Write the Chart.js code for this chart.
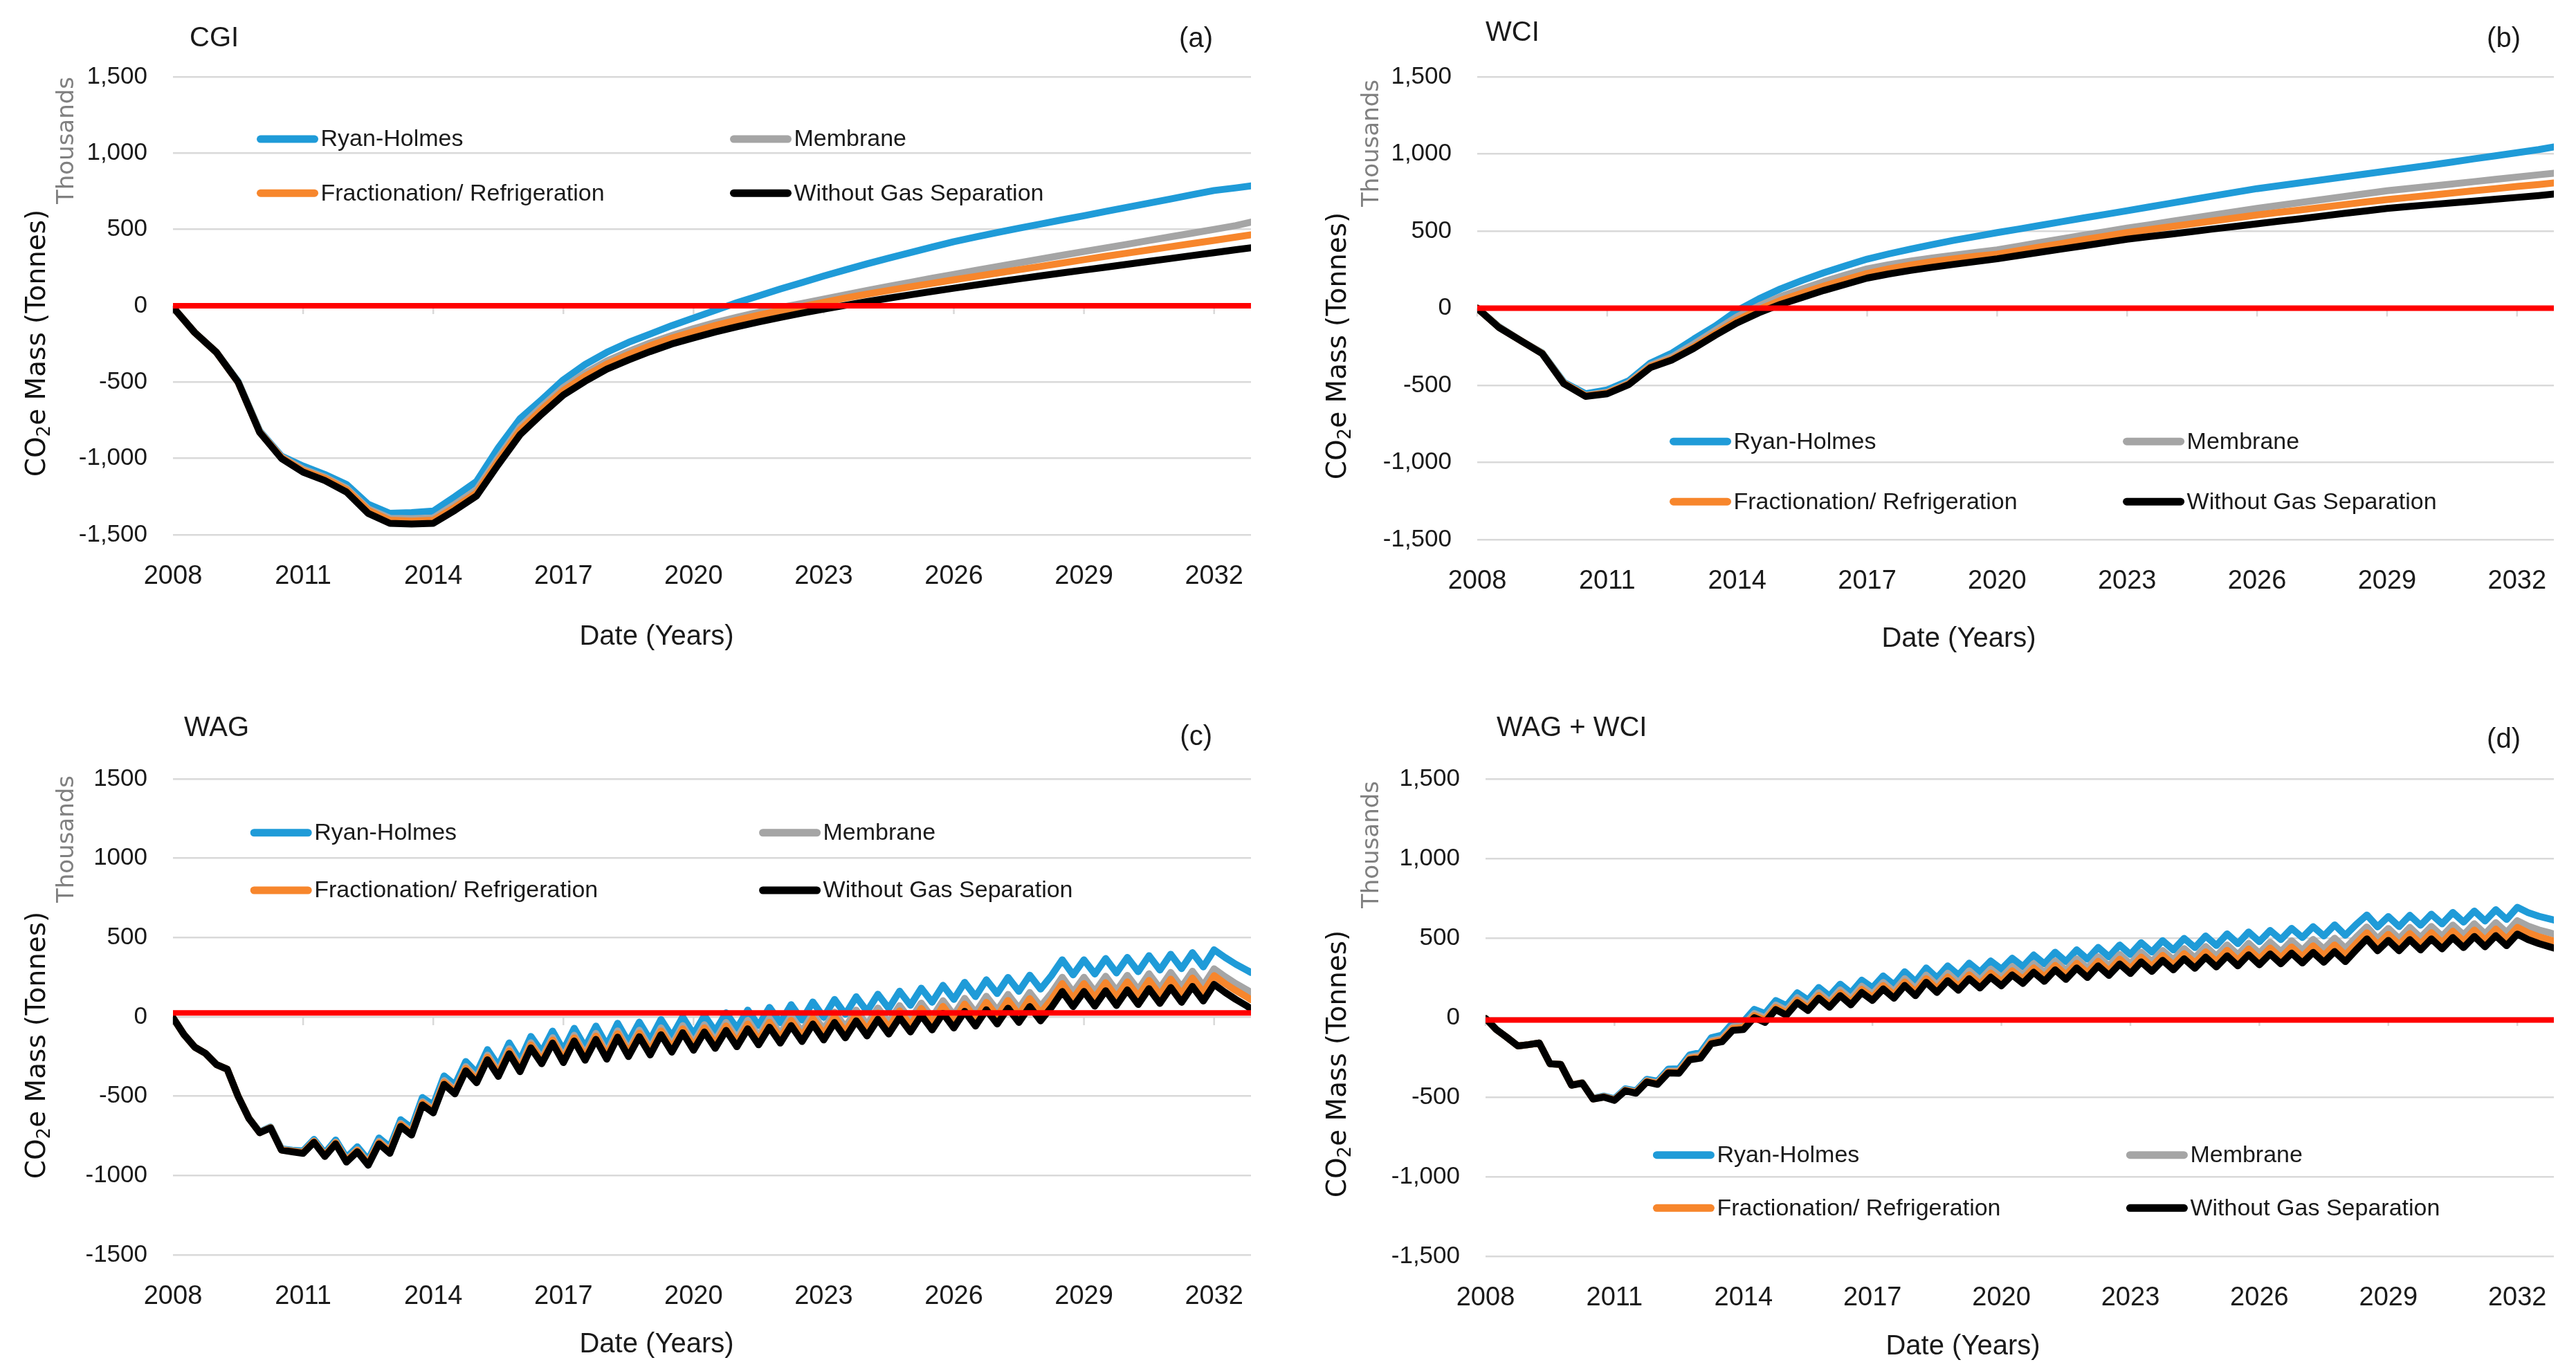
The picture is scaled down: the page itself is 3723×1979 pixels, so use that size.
<!DOCTYPE html>
<html>
<head>
<meta charset="utf-8">
<title>CO2e mass by separation method</title>
<script src="https://cdn.jsdelivr.net/npm/chart.js@4.4.1/dist/chart.umd.min.js"></script>
<style>
  html, body { margin: 0; padding: 0; background: #fff; overflow: hidden; }
  canvas { position: absolute; }
</style>
</head>
<body>
<canvas id="cA" width="1861" height="990" style="left:0;top:0"></canvas>
<canvas id="cB" width="1862" height="990" style="left:1861px;top:0"></canvas>
<canvas id="cC" width="1861" height="989" style="left:0;top:990px"></canvas>
<canvas id="cD" width="1862" height="989" style="left:1861px;top:990px"></canvas>
<script>
// series names / colours (legend order)
var seriesNames = ["Ryan-Holmes", "Membrane", "Fractionation/ Refrigeration", "Without Gas Separation"];
var seriesColors = ["#1f9bd8", "#a5a5a5", "#f7862c", "#000000"];
var xTicks = [2008, 2011, 2014, 2017, 2020, 2023, 2026, 2029, 2032];

// half-yearly dates for (a) and (b)
var yearsHalf = [2008,2008.5,2009,2009.5,2010,2010.5,2011,2011.5,2012,2012.5,2013,2013.5,2014,2014.5,2015,2015.5,
  2016,2016.5,2017,2017.5,2018,2018.5,2019,2019.5,2020,2020.5,2021,2021.5,2022,2022.5,2023,2023.5,2024,2024.5,
  2025,2025.5,2026,2026.5,2027,2027.5,2028,2028.5,2029,2029.5,2030,2030.5,2031,2031.5,2032,2032.5,2032.85];

// quarterly dates for (c) and (d)
var yearsQuarter = [2008,2008.25,2008.5,2008.75,2009,2009.25,2009.5,2009.75,2010,2010.25,2010.5,2010.75,
  2011,2011.25,2011.5,2011.75,2012,2012.25,2012.5,2012.75,2013,2013.25,2013.5,2013.75,2014,2014.25,2014.5,2014.75,
  2015,2015.25,2015.5,2015.75,2016,2016.25,2016.5,2016.75,2017,2017.25,2017.5,2017.75,2018,2018.25,2018.5,2018.75,
  2019,2019.25,2019.5,2019.75,2020,2020.25,2020.5,2020.75,2021,2021.25,2021.5,2021.75,2022,2022.25,2022.5,2022.75,
  2023,2023.25,2023.5,2023.75,2024,2024.25,2024.5,2024.75,2025,2025.25,2025.5,2025.75,2026,2026.25,2026.5,2026.75,
  2027,2027.25,2027.5,2027.75,2028,2028.25,2028.5,2028.75,2029,2029.25,2029.5,2029.75,2030,2030.25,2030.5,2030.75,
  2031,2031.25,2031.5,2031.75,2032,2032.25,2032.5,2032.75,2032.85];

// (a) CGI, thousands of tonnes
var cgiRyan = [-10,-175,-305,-495,-820,-985,-1050,-1105,-1170,-1300,-1360,-1355,-1345,-1250,-1150,-930,-740,-615,-485,-385,-305,-240,-185,-130,
  -80,-30,20,65,110,152,195,235,275,312,348,385,420,450,480,508,535,563,590,618,645,672,700,728,755,772,785];
var cgiMembrane = [-10,-175,-305,-500,-825,-990,-1070,-1122,-1195,-1330,-1392,-1395,-1390,-1300,-1205,-995,-795,-660,-535,-440,-362,-300,-243,-195,
  -150,-110,-75,-42,-12,15,43,72,100,127,153,180,205,231,256,281,306,331,355,379,403,428,452,476,500,525,548];
var cgiFrac = [-10,-175,-305,-500,-828,-995,-1080,-1130,-1205,-1340,-1405,-1410,-1405,-1320,-1225,-1015,-815,-680,-555,-462,-382,-320,-262,-212,
  -170,-130,-95,-62,-32,-5,22,50,76,100,124,147,170,192,214,236,258,280,302,324,345,366,387,408,428,450,465];
var cgiWithout = [-10,-175,-305,-500,-830,-1000,-1090,-1145,-1220,-1360,-1425,-1430,-1425,-1340,-1245,-1040,-845,-710,-585,-495,-415,-355,-300,-250,
  -210,-172,-138,-106,-76,-48,-22,3,27,50,72,94,115,136,156,176,196,215,234,253,272,291,310,329,348,367,380];

// (b) WCI
var wciRyan = [0,-120,-210,-290,-480,-555,-530,-470,-355,-290,-200,-115,-15,60,125,180,230,275,318,352,383,412,440,465,
  490,513,537,561,585,608,632,656,680,704,728,752,775,794,813,832,851,870,889,908,927,947,968,988,1008,1028,1045];
var wciMembrane = [0,-122,-210,-292,-485,-565,-545,-483,-370,-315,-232,-143,-55,15,75,125,172,215,255,282,305,325,343,361,
  378,402,426,450,473,496,519,540,562,583,605,626,647,666,685,704,723,742,761,776,790,805,820,835,850,865,875];
var wciFrac = [0,-123,-210,-293,-487,-568,-550,-490,-378,-328,-250,-162,-78,-8,50,98,143,185,225,255,280,302,320,336,
  350,374,397,420,444,467,490,509,528,547,566,585,604,621,637,654,671,688,704,718,732,747,761,775,789,802,812];
var wciWithout = [0,-125,-210,-295,-490,-572,-555,-495,-385,-335,-260,-175,-95,-30,25,70,115,155,195,222,245,265,284,302,
  320,342,363,384,405,426,447,464,480,497,514,530,547,564,580,597,614,630,647,659,671,683,694,706,718,730,740];

// (c) WAG
var wagRyan = [-5,-110,-190,-230, -300,-330,-500,-638, -725,-694,-832,-840, -845,-772,-859,-776, -887,-819,-901,-763,
  -820,-648,-700,-508, -555,-372,-429,-281, -353,-206,-309,-164, -275,-123,-221,-89, -210,-72,-191,-58,
  -180,-40,-160,-33, -146,-16,-124,-1, -110,8,-91,26, -73,43,-55,60, -37,77,-20,94, -3,110,16,127,
  35,143,53,162, 73,181,92,199, 110,218,128,234, 147,249,161,263, 175,260,360,265, 360,270,368,277,
  375,285,386,295, 395,304,405,315, 423,375,332,295, 280];
var wagMembrane = [-5,-110,-190,-230, -300,-330,-500,-639, -728,-697,-836,-845, -853,-782,-871,-789, -902,-836,-920,-783,
  -842,-671,-725,-534, -582,-401,-460,-313, -387,-241,-345,-201, -313,-163,-262,-131, -253,-116,-236,-104,
  -227,-88,-209,-84, -198,-69,-178,-55, -165,-49,-150,-35, -136,-22,-122,-9, -107,4,-94,18, -81,30,-65,43,
  -50,56,-36,71, -19,87,-4,102, 11,117,26,130, 41,142,53,154, 65,150,250,155, 250,159,256,164,
  262,171,272,180, 280,187,288,197, 303,254,210,171, 154];
var wagFrac = [-5,-110,-190,-230, -300,-330,-500,-639, -729,-698,-838,-847, -856,-785,-875,-794, -908,-842,-926,-791,
  -850,-679,-734,-543, -592,-412,-471,-325, -399,-254,-358,-215, -327,-177,-276,-146, -268,-132,-252,-121,
  -244,-106,-227,-102, -216,-88,-197,-75, -185,-69,-171,-57, -159,-45,-146,-34, -133,-22,-121,-10, -109,1,-95,13,
  -81,25,-68,38, -53,53,-38,66, -25,81,-11,92, 3,104,14,115, 25,110,210,115, 210,119,216,123,
  221,130,230,138, 238,145,245,154, 260,210,166,126, 108];
var wagWithout = [-5,-110,-190,-230, -300,-330,-500,-640, -730,-700,-840,-850, -860,-790,-880,-800, -915,-850,-935,-800,
  -860,-690,-745,-555, -605,-425,-485,-340, -415,-270,-375,-232, -345,-195,-295,-165, -288,-152,-273,-142,
  -266,-128,-250,-125, -240,-112,-222,-100, -210,-95,-198,-85, -188,-75,-176,-65, -165,-55,-155,-45, -145,-35,-132,-25,
  -120,-15,-108,-3, -95,10,-82,22, -70,35,-58,45, -45,55,-35,65, -25,60,160,65, 160,68,165,72,
  170,78,178,85, 185,92,192,100, 205,155,110,70, 50];

// (d) WAG + WCI
var wwRyan = [-5,-75,-125,-178, -170,-160,-290,-295, -423,-409,-507,-493, -510,-448,-460,-388, -400,-324,-322,-234,
  -220,-127,-110,-34, -25,52,25,107, 75,156,110,189, 135,210,155,235, 188,262,206,288, 226,312,249,325,
  267,342,286,356, 304,373,321,393, 338,411,352,426, 367,441,382,456, 397,471,412,484, 425,498,440,513,
  453,526,465,538, 477,548,490,561, 503,572,513,583, 517,585,645,570, 635,572,643,580, 650,589,661,600,
  670,607,678,617, 693,660,637,620, 613];
var wwMembrane = [-5,-75,-125,-178, -170,-160,-290,-295, -424,-410,-509,-496, -515,-454,-467,-396, -410,-336,-336,-249,
  -237,-146,-131,-57, -50,26,-2,79, 45,125,78,156, 100,174,118,197, 148,221,164,245, 182,267,204,279,
  220,294,236,305, 252,321,268,339, 283,356,296,369, 310,383,324,397, 337,411,351,422, 363,434,375,447,
  386,457,395,467, 405,474,414,483, 423,491,431,499, 435,505,570,495, 560,496,567,503, 573,511,582,520,
  590,526,597,535, 609,575,551,533, 525];
var wwFrac = [-5,-75,-125,-178, -170,-160,-290,-295, -424,-411,-511,-498, -517,-457,-471,-401, -415,-342,-343,-257,
  -246,-155,-141,-68, -62,13,-16,64, 30,110,61,139, 83,156,99,177, 128,201,143,224, 160,245,181,255,
  196,269,211,280, 226,294,242,312, 256,328,268,341, 281,354,294,367, 307,380,321,391, 331,402,343,413,
  352,423,360,431, 368,437,376,444, 383,451,389,457, 393,465,533,458, 523,458,528,464, 534,471,543,480,
  550,486,556,493, 567,533,508,489, 481];
var wwWithout = [-5,-75,-125,-178, -170,-160,-290,-295, -425,-412,-512,-500, -520,-460,-475,-405, -420,-348,-350,-265,
  -255,-165,-152,-80, -75,0,-30,50, 15,94,45,122, 65,138,80,158, 108,180,122,202, 138,222,158,232,
  172,245,186,254, 200,268,215,285, 228,300,240,312, 252,325,265,337, 277,350,290,360, 300,370,310,380,
  318,388,325,395, 332,400,338,405, 343,410,348,415, 352,425,495,420, 485,420,490,425, 495,432,503,440,
  510,445,515,452, 525,490,465,445, 437];

// reference (red) line level per panel
var zeroLevels = [0, 0, 25, -15];

var TXT = '"Liberation Sans", Arial, sans-serif';
var WIDE = '"DejaVu Sans", Verdana, sans-serif';

var panels = [
  { id: "cA", name: "CGI", letter: "(a)", years: yearsHalf, series: [cgiRyan, cgiMembrane, cgiFrac, cgiWithout], commas: true,
    lay: { L: 250, R: 53, T: 111, B: 217, nameDX: 24, nameDY: -55, letterDX: -55, letterDY: -54,
      legCols: [0.078, 0.517], legRows: [0.136, 0.254], yTitle: [55, 496], thou: [97, 203], xTitleDX: -80, xTitleDY: 148 } },
  { id: "cB", name: "WCI", letter: "(b)", years: yearsHalf, series: [wciRyan, wciMembrane, wciFrac, wciWithout], commas: true,
    lay: { L: 274, R: 32, T: 111, B: 210, nameDX: 12, nameDY: -63, letterDX: -48, letterDY: -54,
      legCols: [0.179, 0.60], legRows: [0.788, 0.918], yTitle: [74, 500], thou: [122, 207], xTitleDX: -82, xTitleDY: 144 } },
  { id: "cC", name: "WAG", letter: "(c)", years: yearsQuarter, series: [wagRyan, wagMembrane, wagFrac, wagWithout], commas: false,
    lay: { L: 250, R: 53, T: 136, B: 165, nameDX: 16, nameDY: -73, letterDX: -56, letterDY: -60,
      legCols: [0.072, 0.544], legRows: [0.113, 0.234], yTitle: [55, 521], thou: [97, 223], xTitleDX: -80, xTitleDY: 130 } },
  { id: "cD", name: "WAG + WCI", letter: "(d)", years: yearsQuarter, series: [wwRyan, wwMembrane, wwFrac, wwWithout], commas: true,
    lay: { L: 286, R: 32, T: 136, B: 163, nameDX: 16, nameDY: -73, letterDX: -48, letterDY: -56,
      legCols: [0.157, 0.60], legRows: [0.788, 0.899], yTitle: [74, 548], thou: [122, 231], xTitleDX: -82, xTitleDY: 131 } }
];

// titles, axis titles, legend and small tick marks at the zero axis
var decor = {
  id: "decor",
  beforeDatasetsDraw: function (chart, args, o) {
    var ctx = chart.ctx, xs = chart.scales.x, y0 = chart.scales.y.getPixelForValue(0);
    ctx.save();
    ctx.strokeStyle = "#d9d9d9";
    ctx.lineWidth = 2.5;
    xTicks.forEach(function (v) {
      var x = xs.getPixelForValue(v);
      ctx.beginPath(); ctx.moveTo(x, y0); ctx.lineTo(x, y0 + 12); ctx.stroke();
    });
    ctx.restore();
  },
  afterDraw: function (chart, args, o) {
    var ctx = chart.ctx, a = chart.chartArea, lay = o.lay;
    ctx.save();
    ctx.fillStyle = "#1a1a1a";
    ctx.textBaseline = "middle";
    ctx.font = "40px " + TXT;
    ctx.textAlign = "left";
    ctx.fillText(o.name, a.left + lay.nameDX, a.top + lay.nameDY);
    ctx.textAlign = "right";
    ctx.fillText(o.letter, a.right + lay.letterDX, a.top + lay.letterDY);
    ctx.textAlign = "center";
    ctx.fillText("Date (Years)", (a.left + a.right) / 2 + lay.xTitleDX, a.bottom + lay.xTitleDY);

    // legend, 2 x 2
    var w = a.right - a.left, h = a.bottom - a.top;
    ctx.font = "34px " + TXT;
    ctx.textAlign = "left";
    seriesNames.forEach(function (nm, k) {
      var x0 = a.left + lay.legCols[k % 2] * w;
      var y = a.top + lay.legRows[Math.floor(k / 2)] * h;
      ctx.strokeStyle = seriesColors[k];
      ctx.lineWidth = 11;
      ctx.lineCap = "round";
      ctx.beginPath(); ctx.moveTo(x0 + 5, y); ctx.lineTo(x0 + 83, y); ctx.stroke();
      ctx.fillStyle = "#1a1a1a";
      ctx.fillText(nm, x0 + 92, y + 1);
    });

    // "Thousands"
    ctx.save();
    ctx.translate(lay.thou[0], lay.thou[1]);
    ctx.rotate(-Math.PI / 2);
    ctx.font = "34px " + WIDE;
    ctx.fillStyle = "#808080";
    ctx.textAlign = "center";
    ctx.fillText("Thousands", 0, 0);
    ctx.restore();

    // y title with subscript
    ctx.save();
    ctx.translate(lay.yTitle[0], lay.yTitle[1]);
    ctx.rotate(-Math.PI / 2);
    ctx.fillStyle = "#111";
    ctx.textAlign = "left";
    var big = "39px " + WIDE, small = "26px " + WIDE;
    ctx.font = big;
    var w1 = ctx.measureText("CO").width, w3 = ctx.measureText("e Mass (Tonnes)").width;
    ctx.font = small;
    var w2 = ctx.measureText("2").width;
    var sx = -(w1 + w2 + w3) / 2;
    ctx.font = big;
    ctx.fillText("CO", sx, 0);
    ctx.font = small;
    ctx.fillText("2", sx + w1, 10);
    ctx.font = big;
    ctx.fillText("e Mass (Tonnes)", sx + w1 + w2, 0);
    ctx.restore();

    ctx.restore();
  }
};

panels.forEach(function (p, pi) {
  var pts = function (ys) { return p.years.map(function (x, i) { return { x: x, y: ys[i] }; }); };
  var first = p.years[0], last = p.years[p.years.length - 1];
  var datasets = [{
    label: "zero",
    data: [{ x: first, y: zeroLevels[pi] }, { x: last, y: zeroLevels[pi] }],
    borderColor: "#ff0000", borderWidth: 8
  }];
  // black drawn on top, blue underneath
  [3, 2, 1, 0].forEach(function (k) {
    datasets.push({
      label: seriesNames[k], data: pts(p.series[k]),
      borderColor: seriesColors[k], borderWidth: 10,
      borderJoinStyle: "round", borderCapStyle: "round"
    });
  });

  new Chart(document.getElementById(p.id).getContext("2d"), {
    type: "line",
    data: { datasets: datasets },
    options: {
      responsive: false,
      animation: false,
      devicePixelRatio: 1,
      elements: { point: { radius: 0 }, line: { tension: 0 } },
      layout: { padding: { left: 0, right: p.lay.R, top: p.lay.T, bottom: 0 } },
      scales: {
        x: {
          type: "linear", min: first, max: last,
          afterBuildTicks: function (s) { s.ticks = xTicks.map(function (v) { return { value: v }; }); },
          afterFit: function (s) { s.height = p.lay.B; },
          grid: { display: false, drawTicks: false },
          border: { display: false },
          ticks: {
            autoSkip: false, maxRotation: 0, padding: 38, color: "#1a1a1a",
            font: { family: TXT, size: 38 },
            callback: function (v) { return String(v); }
          }
        },
        y: {
          min: -1500, max: 1500,
          afterFit: function (s) { s.width = p.lay.L; },
          grid: { color: "#d9d9d9", lineWidth: 2.5, drawTicks: false },
          border: { display: false },
          ticks: {
            stepSize: 500, padding: 37, color: "#1a1a1a",
            font: { family: TXT, size: 35 },
            callback: function (v) { return p.commas ? v.toLocaleString("en-US") : String(v); }
          }
        }
      },
      plugins: {
        legend: { display: false },
        tooltip: { enabled: false },
        decor: { name: p.name, letter: p.letter, lay: p.lay }
      }
    },
    plugins: [decor]
  });
});
</script>
</body>
</html>
